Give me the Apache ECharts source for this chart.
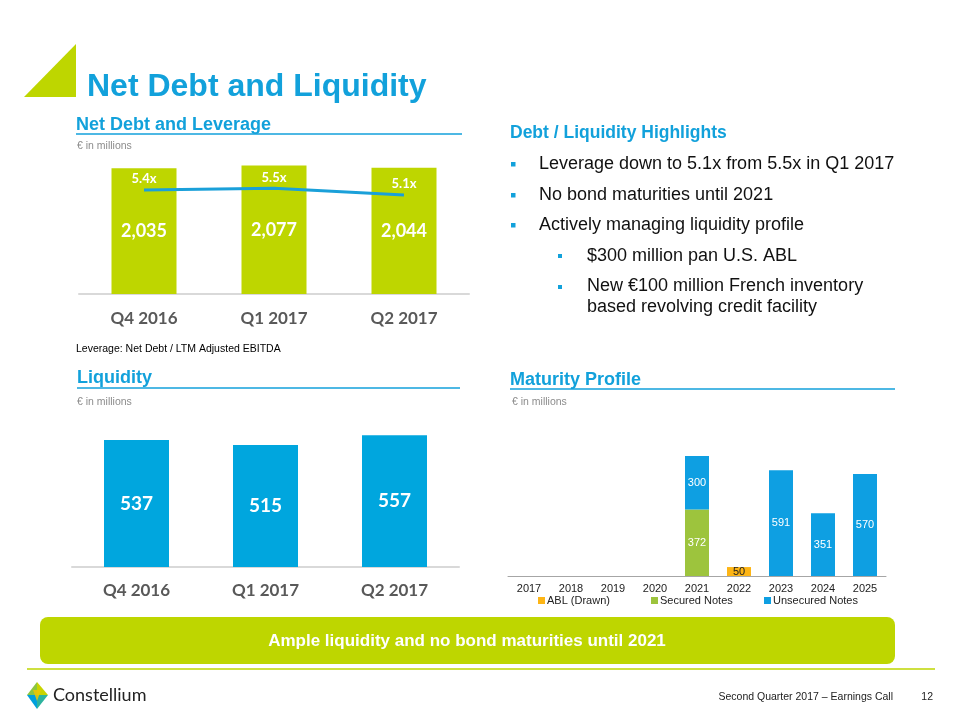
<!DOCTYPE html>
<html><head><meta charset="utf-8">
<script src="https://cdn.jsdelivr.net/npm/echarts@6/dist/echarts.min.js"></script>
<style>html,body{margin:0;padding:0;background:#fff}#c{width:960px;height:720px}</style>
</head><body><div id="c"></div>
<script>
const quarters = ['Q4 2016', 'Q1 2017', 'Q2 2017'];
const netDebt = [2035, 2077, 2044];
const leverage = [5.4, 5.5, 5.1];
const liquidity = [537, 515, 557];
const years = ['2017', '2018', '2019', '2020', '2021', '2022', '2023', '2024', '2025'];
const ablDrawn = ['-', '-', '-', '-', '-', 50, '-', '-', '-'];
const securedNotes = ['-', '-', '-', '-', 372, '-', '-', '-', '-'];
const unsecuredNotes = ['-', '-', '-', '-', 300, '-', 591, 351, 570];
const highlights = [
  'Leverage down to 5.1x from 5.5x in Q1 2017',
  'No bond maturities until 2021',
  'Actively managing liquidity profile'
];
const subHighlights = [
  '$300 million pan U.S. ABL',
  'New €100 million French inventory\nbased revolving credit facility'
];

const BLUE = '#12A1DB';
const LIME = '#BED600';
const AR = '"Liberation Sans", Arial, sans-serif';
const CAL = 'Lato, "Open Sans", sans-serif';

const chart = echarts.init(document.getElementById('c'), null, {renderer: 'canvas'});

function txt(text, x, y, font, fill, align) {
  return {type: 'text', x: x, y: y, style: {text: text, font: font, fill: fill, textAlign: align || 'left', textVerticalAlign: 'middle'}};
}
function hline(x1, x2, y, color, w) {
  return {type: 'line', shape: {x1: x1, y1: y, x2: x2, y2: y}, style: {stroke: color, lineWidth: w}};
}
function sq(x, y, s, color) {
  return {type: 'rect', shape: {x: x, y: y, width: s, height: s}, style: {fill: color}};
}

const graphics = [
  {type: 'polygon', shape: {points: [[24, 97], [76, 44], [76, 97]]}, style: {fill: LIME}},
  txt('Net Debt and Liquidity', 87, 87, 'bold 32px ' + AR, BLUE),
  txt('Net Debt and Leverage', 76, 125, 'bold 18px ' + AR, BLUE),
  hline(76, 462, 134, BLUE, 1.5),
  txt('€ in millions', 77, 146, '10.5px ' + AR, '#8C8C8C'),
  txt('Leverage: Net Debt / LTM Adjusted EBITDA', 76, 349, '10.5px ' + AR, '#000'),
  txt('Liquidity', 77, 378, 'bold 18px ' + AR, BLUE),
  hline(77, 460, 388, BLUE, 1.5),
  txt('€ in millions', 77, 402, '10.5px ' + AR, '#8C8C8C'),
  txt('Maturity Profile', 510, 380, 'bold 18px ' + AR, BLUE),
  hline(510, 895, 389, BLUE, 1.5),
  txt('€ in millions', 512, 402, '10.5px ' + AR, '#8C8C8C'),
  txt('Debt / Liquidity Highlights', 510, 133, 'bold 17.5px ' + AR, BLUE),
  {type: 'rect', shape: {x: 40, y: 617, width: 855, height: 47, r: 8}, style: {fill: LIME}},
  txt('Ample liquidity and no bond maturities until 2021', 467, 641, 'bold 17px ' + AR, '#fff', 'center'),
  hline(27, 935, 669, LIME, 1.5),
  // logo
  {type: 'polygon', shape: {points: [[37, 682], [27, 695], [37, 695]]}, style: {fill: '#8DC63F'}},
  {type: 'polygon', shape: {points: [[37, 682], [48, 695], [37, 695]]}, style: {fill: '#C8D400'}},
  {type: 'polygon', shape: {points: [[27, 695], [37, 709], [37, 695]]}, style: {fill: '#00A0DC'}},
  {type: 'polygon', shape: {points: [[48, 695], [37, 709], [37, 695]]}, style: {fill: '#2DB39E'}},
  {type: 'polygon', shape: {points: [[33, 690], [41, 690], [37, 701]]}, style: {fill: '#F2C500', opacity: 0.85}},
  txt('Constellium', 53, 695, '18px ' + CAL, '#222'),
  txt('Second Quarter 2017 – Earnings Call', 893, 697, '10.5px ' + AR, '#222', 'right'),
  txt('12', 933, 697, '10.5px ' + AR, '#222', 'right')
];
const mainY = [164, 195, 225];
highlights.forEach(function (t, i) {
  graphics.push(sq(511, mainY[i] - 2, 4.5, BLUE));
  graphics.push(txt(t, 539, mainY[i], '18px ' + AR, '#111'));
});
const subY = [256, 297];
subHighlights.forEach(function (t, i) {
  graphics.push(sq(558, (i === 0 ? 256 : 287) - 2, 4, BLUE));
  graphics.push({type: 'text', x: 587, y: subY[i], style: {text: t, font: '18px ' + AR, fill: '#111', textAlign: 'left', textVerticalAlign: 'middle', lineHeight: 21}});
});

const catLabel = {fontFamily: CAL, fontWeight: 'bold', fontSize: 17, color: '#595959'};

const option = {
  animation: false,
  graphic: graphics,
  grid: [
    {left: 79, width: 390, top: 158, height: 136},
    {left: 72, width: 387, top: 425, height: 142},
    {left: 508, width: 378, top: 433, height: 143}
  ],
  xAxis: [
    {type: 'category', gridIndex: 0, data: quarters, axisTick: {show: false},
     axisLine: {lineStyle: {color: '#D9D9D9', width: 2}}, axisLabel: Object.assign({margin: 16}, catLabel)},
    {type: 'category', gridIndex: 1, data: quarters, axisTick: {show: false},
     axisLine: {lineStyle: {color: '#D9D9D9', width: 2}}, axisLabel: Object.assign({margin: 15}, catLabel)},
    {type: 'category', gridIndex: 2, data: years, axisTick: {show: false},
     axisLine: {lineStyle: {color: '#A6A6A6', width: 1}},
     axisLabel: {margin: 7, fontFamily: AR, fontSize: 11, color: '#222'}}
  ],
  yAxis: [
    {type: 'value', gridIndex: 0, min: 0, max: 2200, show: false},
    {type: 'value', gridIndex: 0, min: -0.83, max: 7.32, show: false},
    {type: 'value', gridIndex: 1, min: 0, max: 600, show: false},
    {type: 'value', gridIndex: 2, min: 0, max: 800, show: false}
  ],
  legend: [
    {data: ['ABL (Drawn)'], left: 538, top: 595},
    {data: ['Secured Notes'], left: 651, top: 595},
    {data: ['Unsecured Notes'], left: 764, top: 595}
  ].map(function (l) {
    return Object.assign({icon: 'rect', itemWidth: 7, itemHeight: 7, padding: 0,
      textStyle: {fontFamily: AR, fontSize: 11, color: '#222', padding: [0, 0, 0, -3]}}, l);
  }),
  series: [
    {type: 'bar', xAxisIndex: 0, yAxisIndex: 0, data: netDebt, barWidth: 65,
     itemStyle: {color: LIME},
     label: {show: true, position: 'inside', color: '#fff', fontFamily: CAL, fontWeight: 'bold', fontSize: 18,
       formatter: function (p) { return p.value.toLocaleString('en-US'); }}},
    {type: 'line', xAxisIndex: 0, yAxisIndex: 1, data: leverage, symbol: 'circle', symbolSize: 1, showSymbol: true,
     itemStyle: {color: 'rgba(0,0,0,0)'},
     lineStyle: {color: '#1AA0D9', width: 3},
     label: {show: true, position: 'top', distance: 4, color: '#fff', fontFamily: CAL, fontWeight: 'bold', fontSize: 13,
       formatter: function (p) { return p.value.toFixed(1) + 'x'; }}},
    {type: 'bar', xAxisIndex: 1, yAxisIndex: 2, data: liquidity, barWidth: 65,
     itemStyle: {color: '#00A6DE'},
     label: {show: true, position: 'inside', color: '#fff', fontFamily: CAL, fontWeight: 'bold', fontSize: 19}},
    {name: 'ABL (Drawn)', type: 'bar', stack: 'm', xAxisIndex: 2, yAxisIndex: 3, data: ablDrawn, barWidth: 24,
     itemStyle: {color: '#FDB515'},
     label: {show: true, position: 'inside', color: '#222', fontFamily: AR, fontSize: 11}},
    {name: 'Secured Notes', type: 'bar', stack: 'm', xAxisIndex: 2, yAxisIndex: 3, data: securedNotes, barWidth: 24,
     itemStyle: {color: '#9DC43D'},
     label: {show: true, position: 'inside', color: '#fff', fontFamily: AR, fontSize: 11}},
    {name: 'Unsecured Notes', type: 'bar', stack: 'm', xAxisIndex: 2, yAxisIndex: 3, data: unsecuredNotes, barWidth: 24,
     itemStyle: {color: '#0E9FE2'},
     label: {show: true, position: 'inside', color: '#fff', fontFamily: AR, fontSize: 11}}
  ]
};
chart.setOption(option);
</script>
</body></html>
